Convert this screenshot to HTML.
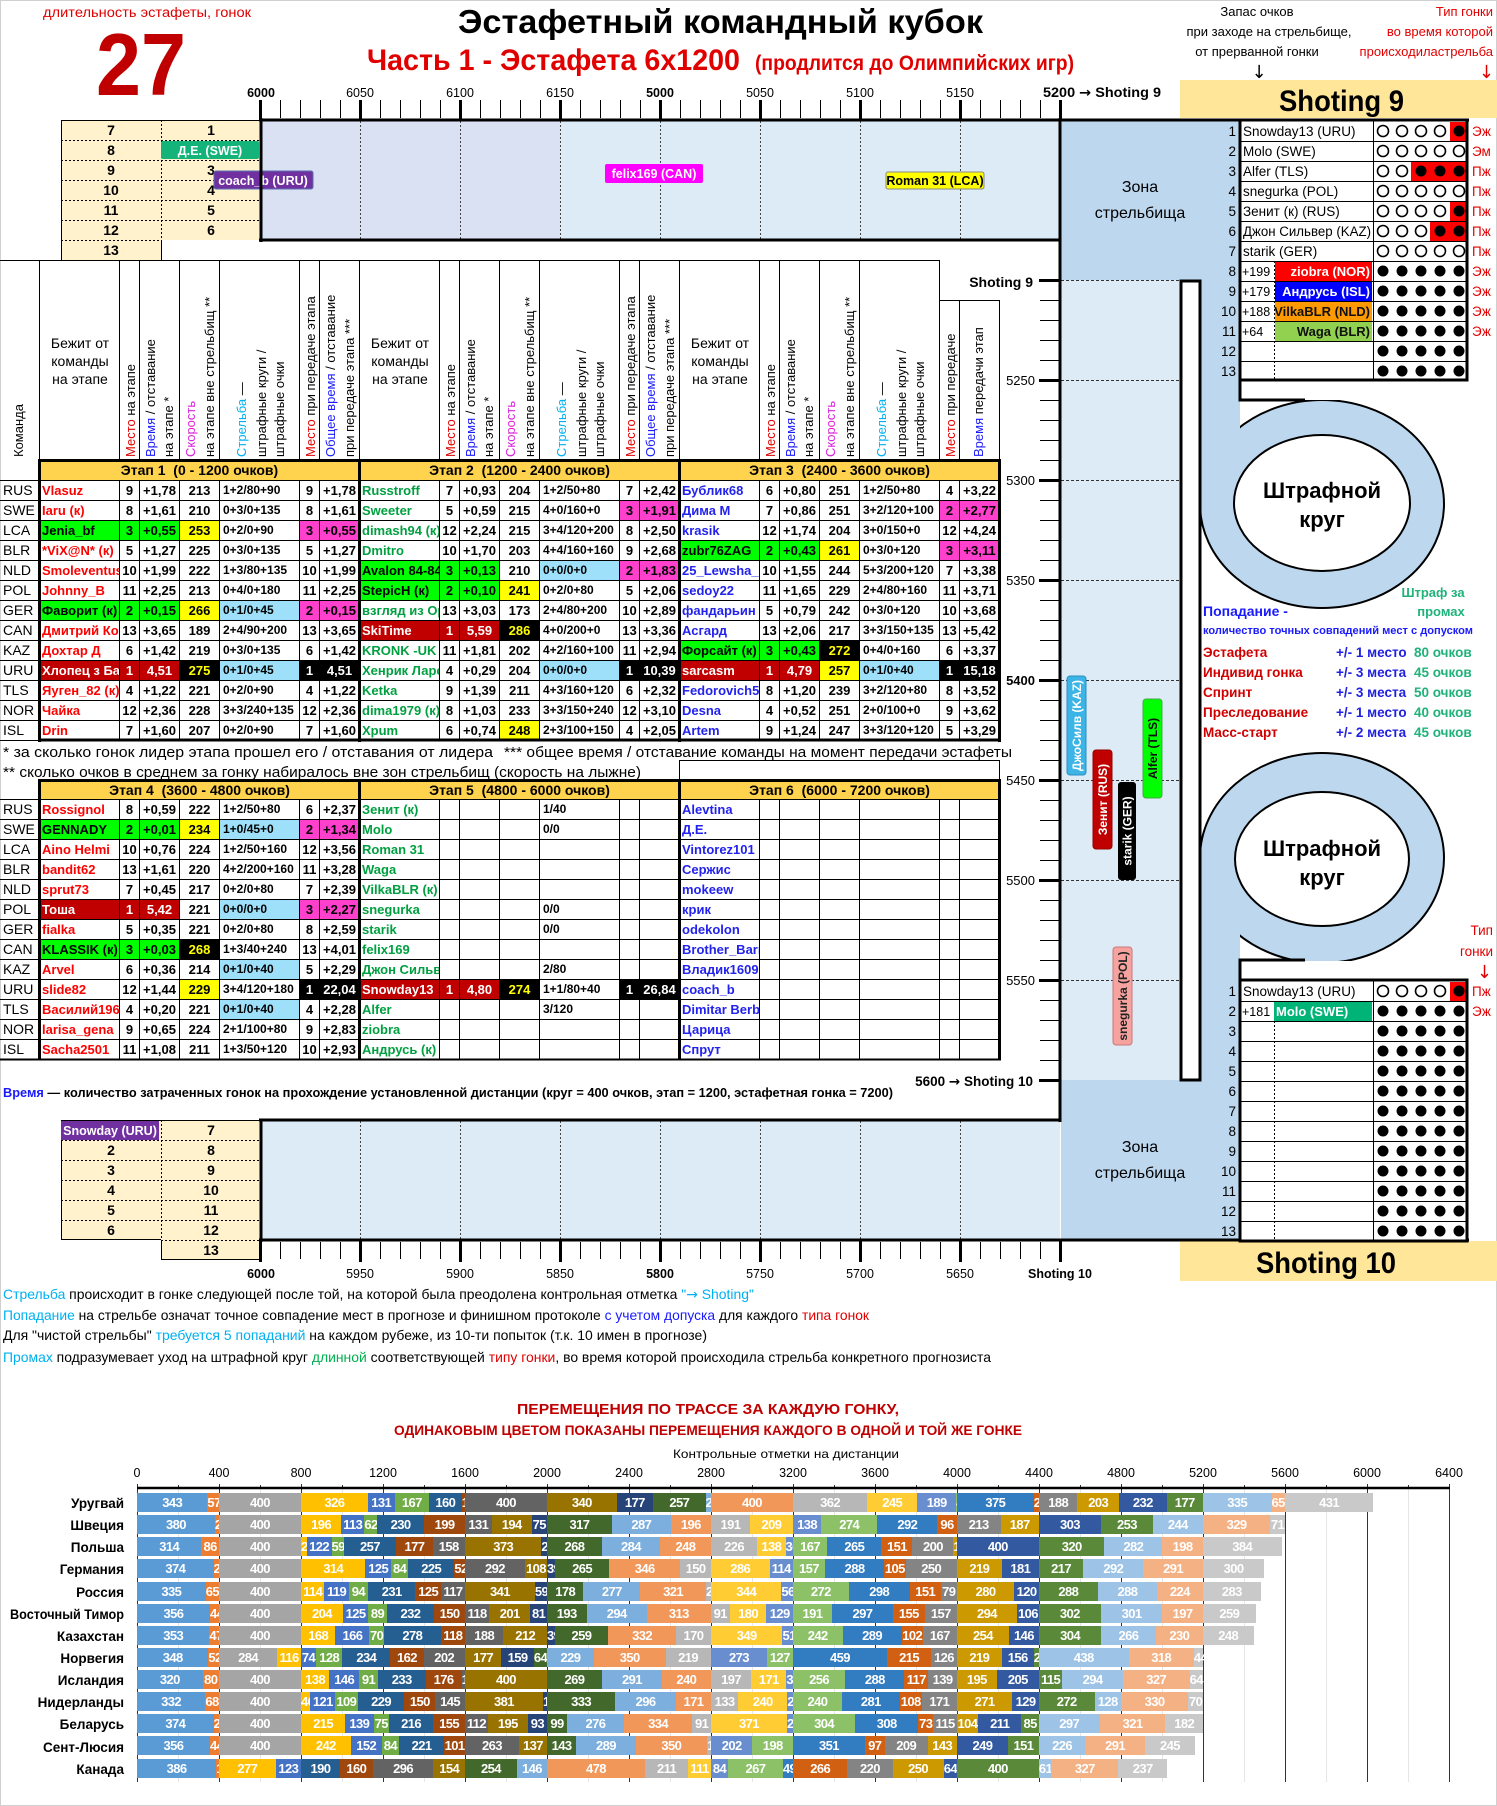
<!DOCTYPE html>
<html><head><meta charset="utf-8">
<style>
body{margin:0;background:#fff}
#p{position:relative;width:1497px;height:1806px;overflow:hidden;font-family:"Liberation Sans",sans-serif;background:#fff}
svg{position:absolute;left:0;top:0}
svg text{font-family:"Liberation Sans",sans-serif}
.ar{font-family:"DejaVu Sans",sans-serif}
#fg{pointer-events:none}
.g{position:absolute;left:0;width:1000px;display:grid;grid-template-columns:40px repeat(3,80px 20px 40px 40px 80px 20px 40px)}
#t1{top:460px;grid-template-rows:21px repeat(13,20px)}
#t2{top:780px;grid-template-rows:repeat(14,20px)}
.g i{box-sizing:border-box;border-right:1px solid #000;border-bottom:1px solid #000;font:bold 13px/19px "Liberation Sans",sans-serif;text-align:center;white-space:nowrap;overflow:hidden;color:#000}
.g .h{grid-column:span 7;background:#ffd34d;font-size:14px;line-height:20px}
.g .c{text-align:left;font-weight:normal;padding-left:3px;font-size:14px}
.g .l{text-align:left;padding-left:2px}
.g .s{text-align:left;padding-left:3px;font-size:12px}
.g .r{color:#f00}.g .v{color:#00a040}.g .u{color:#2222ee}
.g .G{background:#00ff00;color:#000}.g .Y{background:#ffff00}.g .M{background:#ff40cc}.g .L{background:#9ee0fa}
.g .D{background:#c00000;color:#fff}.g .K{background:#000;color:#fff}.g .KY{background:#000;color:#ff0}
.bar{position:absolute;left:137px;height:19px;display:flex}
.bar b{flex:none;height:19px;width:calc(var(--v) * 0.205px);color:#fff;font:bold 13px/19px "Liberation Sans Narrow","Liberation Sans",sans-serif;letter-spacing:-0.6px;text-align:center;white-space:nowrap;overflow:visible}
.bar b:nth-child(1){background:#5b9bd5}.bar b:nth-child(2){background:#ed7d31}.bar b:nth-child(3){background:#a5a5a5}
.bar b:nth-child(4){background:#ffc000}.bar b:nth-child(5){background:#4472c4}.bar b:nth-child(6){background:#70ad47}
.bar b:nth-child(7){background:#255e91}.bar b:nth-child(8){background:#9e480e}.bar b:nth-child(9){background:#636363}
.bar b:nth-child(10){background:#997300}.bar b:nth-child(11){background:#264478}.bar b:nth-child(12){background:#43682b}
.bar b:nth-child(13){background:#7cafdd}.bar b:nth-child(14){background:#f1975a}.bar b:nth-child(15){background:#b7b7b7}
.bar b:nth-child(16){background:#ffcd33}.bar b:nth-child(17){background:#698ed0}.bar b:nth-child(18){background:#8cc168}
.bar b:nth-child(19){background:#327dc2}.bar b:nth-child(20){background:#d26012}.bar b:nth-child(21){background:#848484}
.bar b:nth-child(22){background:#cc9a00}.bar b:nth-child(23){background:#335aa1}.bar b:nth-child(24){background:#5a8a39}
.bar b:nth-child(25){background:#9dc3e6}.bar b:nth-child(26){background:#f4b183}.bar b:nth-child(27){background:#c9c9c9}
.ho{fill:#fff;stroke:#000;stroke-width:1.6}
</style></head><body><div id="p">

<svg id="bg" width="1497" height="1806" viewBox="0 0 1497 1806">
<defs>
<pattern id="tx" x="260" y="0" width="20" height="20" patternUnits="userSpaceOnUse"><rect width="1" height="20" fill="#000"/></pattern>
<pattern id="ty" x="0" y="280" width="20" height="20" patternUnits="userSpaceOnUse"><rect width="20" height="1" fill="#000"/></pattern>
<g id="H"><circle cx="1383" r="5.5"/><circle cx="1402" r="5.5"/><circle cx="1421" r="5.5"/><circle cx="1440" r="5.5"/><circle cx="1459" r="5.5"/></g>
</defs>
<rect x="0.5" y="0.5" width="1496" height="1805" fill="#fff" stroke="#d0d0d0"/>

<!-- title -->
<text x="43" y="17" font-size="13.5" fill="#e00000" textLength="208" lengthAdjust="spacingAndGlyphs">длительность эстафеты, гонок</text>
<text x="96" y="95" font-size="88" font-weight="bold" fill="#c00000" textLength="90" lengthAdjust="spacingAndGlyphs">27</text>
<text x="458" y="33" font-size="33" font-weight="bold" textLength="525" lengthAdjust="spacingAndGlyphs">Эстафетный командный кубок</text>
<text x="367" y="70" font-size="30" font-weight="bold" fill="#e00000" textLength="373" lengthAdjust="spacingAndGlyphs">Часть 1 - Эстафета 6х1200</text>
<text x="755" y="70" font-size="21" font-weight="bold" fill="#e00000" textLength="319" lengthAdjust="spacingAndGlyphs">(продлится до Олимпийских игр)</text>
<g font-size="13" text-anchor="middle">
<text x="1257" y="16">Запас очков</text>
<text x="1269" y="36">при заходе на стрельбище,</text>
<text x="1257" y="56">от прерванной гонки</text>
<text x="1259" y="78" font-size="18" class="ar">↓</text>
</g>
<g font-size="13" text-anchor="end" fill="#e00000">
<text x="1493" y="16">Тип гонки</text>
<text x="1493" y="36">во время которой</text>
<text x="1493" y="56">происходиластрельба</text>
<text x="1494" y="78" font-size="18" class="ar">↓</text>
</g>

<!-- yellow shoting boxes -->
<rect x="1180" y="80" width="317" height="38" fill="#ffe699"/>
<text x="1279" y="111" font-size="30" font-weight="bold" textLength="125" lengthAdjust="spacingAndGlyphs">Shoting 9</text>
<rect x="1180" y="1241" width="317" height="40" fill="#ffe699"/>
<text x="1256" y="1273" font-size="30" font-weight="bold" textLength="140" lengthAdjust="spacingAndGlyphs">Shoting 10</text>

<!-- top box -->
<rect x="261" y="121" width="299" height="119" fill="#dae1f2"/>
<rect x="560" y="121" width="500" height="119" fill="#ddebf7"/>
<path d="M360.5 121V240M460.5 121V240M560.5 121V240M660.5 121V240M760.5 121V240M860.5 121V240M960.5 121V240" stroke="#444" stroke-dasharray="2 2"/>
<!-- bottom box -->
<rect x="261" y="1121" width="799" height="119" fill="#ddebf7"/>
<path d="M360.5 1121V1240M460.5 1121V1240M560.5 1121V1240M660.5 1121V1240M760.5 1121V1240M860.5 1121V1240M960.5 1121V1240" stroke="#444" stroke-dasharray="2 2"/>

<!-- zone -->
<rect x="1061" y="121" width="179" height="159" fill="#bdd7ee"/>
<rect x="1061" y="280" width="119" height="800" fill="#ddebf7"/>
<rect x="1061" y="1080" width="179" height="160" fill="#bdd7ee"/>
<path d="M1061 280.5H1180M1061 380.5H1180M1061 480.5H1180M1061 580.5H1180M1061 680.5H1180M1061 780.5H1180M1061 880.5H1180M1061 980.5H1180" stroke="#333" stroke-dasharray="3 2"/>

<!-- ring 1 -->
<ellipse cx="1322" cy="504" rx="122" ry="104" fill="#bdd7ee" stroke="#000" stroke-width="2"/>
<rect x="1200" y="280" width="40" height="224" fill="#bdd7ee"/>
<ellipse cx="1322" cy="503" rx="88" ry="68" fill="#fff" stroke="#000" stroke-width="2"/>
<rect x="1241" y="381" width="229" height="19" fill="#fff"/>
<path d="M1240 380V400H1305" fill="none" stroke="#000" stroke-width="3"/>
<!-- ring 2 -->
<ellipse cx="1322" cy="858" rx="122" ry="105" fill="#bdd7ee" stroke="#000" stroke-width="2"/>
<rect x="1200" y="858" width="40" height="222" fill="#bdd7ee"/>
<ellipse cx="1322" cy="859" rx="87" ry="67" fill="#fff" stroke="#000" stroke-width="2"/>
<rect x="1241" y="961" width="229" height="20" fill="#fff"/>
<path d="M1240 981V960H1305" fill="none" stroke="#000" stroke-width="3"/>
<!-- white bar -->
<rect x="1181" y="281" width="19" height="799" fill="#fff" stroke="#000" stroke-width="3"/>

<g font-size="22" font-weight="bold" text-anchor="middle">
<text x="1322" y="498">Штрафной</text><text x="1322" y="527">круг</text>
<text x="1322" y="856">Штрафной</text><text x="1322" y="885">круг</text>
</g>
<g font-size="16" text-anchor="middle">
<text x="1140" y="192">Зона</text><text x="1140" y="218">стрельбища</text>
<text x="1140" y="1152">Зона</text><text x="1140" y="1178">стрельбища</text>
</g>

<!-- top mini table -->
<rect x="61" y="120" width="200" height="120" fill="#fff2cc"/><rect x="61" y="240" width="100" height="20" fill="#fff2cc"/>
<path d="M61 120.5H261M61.5 120V260M161.5 240V260" stroke="#000"/>
<path d="M61 140.5H261M61 160.5H261M61 180.5H261M61 200.5H261M61 220.5H261M61 240.5H161M161.5 120V240" stroke="#000" stroke-dasharray="2 2"/>
<g font-size="14" font-weight="bold" text-anchor="middle">
<text x="111" y="135">7</text><text x="111" y="155">8</text><text x="111" y="175">9</text><text x="111" y="195">10</text><text x="111" y="215">11</text><text x="111" y="235">12</text><text x="111" y="255">13</text>
<text x="211" y="135">1</text><text x="211" y="175">3</text><text x="211" y="195">4</text><text x="211" y="215">5</text><text x="211" y="235">6</text>
</g>
<!-- bottom mini table -->
<rect x="61" y="1120" width="200" height="120" fill="#fff2cc"/><rect x="161" y="1240" width="100" height="20" fill="#fff2cc"/>
<path d="M61 1120.5H261M61.5 1120V1240M61 1239.5H161M161.5 1240V1260M161 1259.5H261M260.5 1240V1260" stroke="#000"/>
<path d="M61 1140.5H261M61 1160.5H261M61 1180.5H261M61 1200.5H261M61 1220.5H261M161 1240.5H261M161.5 1120V1240" stroke="#000" stroke-dasharray="2 2"/>
<g font-size="14" font-weight="bold" text-anchor="middle">
<text x="111" y="1155">2</text><text x="111" y="1175">3</text><text x="111" y="1195">4</text><text x="111" y="1215">5</text><text x="111" y="1235">6</text>
<text x="211" y="1135">7</text><text x="211" y="1155">8</text><text x="211" y="1175">9</text><text x="211" y="1195">10</text><text x="211" y="1215">11</text><text x="211" y="1235">12</text><text x="211" y="1255">13</text>
</g>

<!-- tags in boxes -->
<g font-size="12.5" font-weight="bold" text-anchor="middle">
<rect x="161" y="141" width="98" height="18" rx="2" fill="#13b37a"/><text x="210" y="155" fill="#fff">Д.Е. (SWE)</text>
<rect x="214" y="171" width="99" height="18" rx="2" fill="#7030a0" stroke="#5a6fb0"/><text x="263" y="185" fill="#fff">coach_b (URU)</text>
<rect x="605" y="164" width="98" height="19" rx="2" fill="#ff00ff"/><text x="654" y="178" fill="#fff">felix169 (CAN)</text>
<rect x="886" y="172" width="98" height="17" rx="2" fill="#ffff00" stroke="#888"/><text x="935" y="185" fill="#000">Roman 31 (LCA)</text>
<rect x="61" y="1121" width="98" height="19" fill="#7030a0"/><text x="110" y="1135" fill="#fff">Snowday (URU)</text>
</g>

<!-- vertical tags -->
<g font-size="12" font-weight="bold" text-anchor="middle">
<rect x="1067" y="676" width="19" height="99" rx="3" fill="#3cb4e6" stroke="#2a8fc0"/>
<text transform="translate(1081 725.5) rotate(-90)" fill="#fff">ДжоСилв (KAZ)</text>
<rect x="1093" y="750" width="19" height="99" rx="3" fill="#c00000" stroke="#900"/>
<text transform="translate(1107 799.5) rotate(-90)" fill="#fff">Зенит (RUS)</text>
<rect x="1118" y="782" width="18" height="98" rx="3" fill="#000"/>
<text transform="translate(1131.5 831) rotate(-90)" fill="#fff">starik (GER)</text>
<rect x="1143" y="699" width="19" height="99" rx="3" fill="#00ff00" stroke="#4a4"/>
<text transform="translate(1157 748.5) rotate(-90)" fill="#111">Alfer (TLS)</text>
<rect x="1113" y="947" width="19" height="98" rx="3" fill="#f6a3a0" stroke="#c77"/>
<text transform="translate(1127 996) rotate(-90)" fill="#222">snegurka (POL)</text>
</g>

<!-- top axis -->
<rect x="261" y="100" width="800" height="18" fill="url(#tx)"/>
<path d="M260.5 100V120M360.5 100V120M460.5 100V120M560.5 100V120M660.5 100V120M760.5 100V120M860.5 100V120M960.5 100V120M1060.5 100V120" stroke="#000" stroke-width="3"/>
<g font-size="12.5" text-anchor="middle">
<text x="261" y="97" font-weight="bold">6000</text><text x="360" y="97">6050</text><text x="460" y="97">6100</text><text x="560" y="97">6150</text>
<text x="660" y="97" font-weight="bold">5000</text><text x="760" y="97">5050</text><text x="860" y="97">5100</text><text x="960" y="97">5150</text>
</g>
<text x="1043" y="97" font-size="13.5" font-weight="bold" textLength="118" lengthAdjust="spacingAndGlyphs">5200 <tspan class="ar">→</tspan> Shoting 9</text>
<!-- bottom axis -->
<rect x="261" y="1242" width="800" height="17" fill="url(#tx)"/>
<path d="M260.5 1240V1262M360.5 1240V1262M460.5 1240V1262M560.5 1240V1262M660.5 1240V1262M760.5 1240V1262M860.5 1240V1262M960.5 1240V1262M1060.5 1240V1262" stroke="#000" stroke-width="3"/>
<g font-size="12.5" text-anchor="middle">
<text x="261" y="1278" font-weight="bold">6000</text><text x="360" y="1278">5950</text><text x="460" y="1278">5900</text><text x="560" y="1278">5850</text>
<text x="660" y="1278" font-weight="bold">5800</text><text x="760" y="1278">5750</text><text x="860" y="1278">5700</text><text x="960" y="1278">5650</text>
<text x="1060" y="1278" font-weight="bold">Shoting 10</text>
</g>
<!-- vertical axis -->
<rect x="1040" y="280" width="20" height="801" fill="url(#ty)"/>
<path d="M1039 280.5H1060M1039 380.5H1060M1039 480.5H1060M1039 580.5H1060M1039 680.5H1060M1039 780.5H1060M1039 880.5H1060M1039 980.5H1060M1039 1080.5H1060" stroke="#000" stroke-width="3"/>
<g font-size="13" text-anchor="end">
<text x="1033" y="287" font-weight="bold" font-size="14">Shoting 9</text>
<text x="1035" y="385">5250</text><text x="1035" y="485">5300</text><text x="1035" y="585">5350</text>
<text x="1035" y="685" font-weight="bold">5400</text><text x="1035" y="785">5450</text><text x="1035" y="885">5500</text><text x="1035" y="985">5550</text>
<text x="1033" y="1086" font-weight="bold" font-size="13.5">5600 <tspan class="ar">→</tspan> Shoting 10</text>
</g>

<!-- thick frame lines -->
<path d="M259 120H1469M261 118V242M259 240H1061M1060 118V1122M259 1120H1061M261 1119V1242M259 1240H1469" stroke="#000" stroke-width="3" fill="none"/>

<!-- main header -->
<path d="M0 260.5H939.5M939.5 300.5H1000M39.5 260V460M119.5 260V460M139.5 260V460M179.5 260V460M219.5 260V460M299.5 260V460M319.5 260V460M359.5 260V460M439.5 260V460M459.5 260V460M499.5 260V460M539.5 260V460M619.5 260V460M639.5 260V460M679.5 260V460M759.5 260V460M779.5 260V460M819.5 260V460M859.5 260V460M939.5 260V460M959.5 300V460M999.5 300V460" stroke="#000"/>
<g font-size="14" text-anchor="middle">
<text x="80" y="348">Бежит от</text><text x="80" y="366">команды</text><text x="80" y="384">на этапе</text>
<text x="400" y="348">Бежит от</text><text x="400" y="366">команды</text><text x="400" y="384">на этапе</text>
<text x="720" y="348">Бежит от</text><text x="720" y="366">команды</text><text x="720" y="384">на этапе</text>
</g>
<g font-size="13">
<text transform="translate(23 457) rotate(-90)">Команда</text>
<text transform="translate(135 457) rotate(-90)"><tspan fill="#e00000">Место</tspan> на этапе</text>
<text transform="translate(155 457) rotate(-90)"><tspan fill="#1a1aff">Время</tspan>  / отставание</text>
<text transform="translate(173 457) rotate(-90)">на этапе *</text>
<text transform="translate(195 457) rotate(-90)" fill="#e020e0">Скорость</text>
<text transform="translate(214 457) rotate(-90)">на этапе вне стрельбищ **</text>
<text transform="translate(246 457) rotate(-90)"><tspan fill="#00b0f0">Стрельба</tspan> —</text>
<text transform="translate(266 457) rotate(-90)">штрафные круги /</text>
<text transform="translate(284 457) rotate(-90)">штрафные очки</text>
<text transform="translate(315 457) rotate(-90)"><tspan fill="#e00000">Место</tspan> при передаче этапа</text>
<text transform="translate(335 457) rotate(-90)"><tspan fill="#1a1aff">Общее время</tspan>  / отставание</text>
<text transform="translate(354 457) rotate(-90)">при передаче этапа ***</text>

<text transform="translate(455 457) rotate(-90)"><tspan fill="#e00000">Место</tspan> на этапе</text>
<text transform="translate(475 457) rotate(-90)"><tspan fill="#1a1aff">Время</tspan>  / отставание</text>
<text transform="translate(493 457) rotate(-90)">на этапе *</text>
<text transform="translate(515 457) rotate(-90)" fill="#e020e0">Скорость</text>
<text transform="translate(534 457) rotate(-90)">на этапе вне стрельбищ **</text>
<text transform="translate(566 457) rotate(-90)"><tspan fill="#00b0f0">Стрельба</tspan> —</text>
<text transform="translate(586 457) rotate(-90)">штрафные круги /</text>
<text transform="translate(604 457) rotate(-90)">штрафные очки</text>
<text transform="translate(635 457) rotate(-90)"><tspan fill="#e00000">Место</tspan> при передаче этапа</text>
<text transform="translate(655 457) rotate(-90)"><tspan fill="#1a1aff">Общее время</tspan>  / отставание</text>
<text transform="translate(674 457) rotate(-90)">при передаче этапа ***</text>

<text transform="translate(775 457) rotate(-90)"><tspan fill="#e00000">Место</tspan> на этапе</text>
<text transform="translate(795 457) rotate(-90)"><tspan fill="#1a1aff">Время</tspan>  / отставание</text>
<text transform="translate(813 457) rotate(-90)">на этапе *</text>
<text transform="translate(835 457) rotate(-90)" fill="#e020e0">Скорость</text>
<text transform="translate(854 457) rotate(-90)">на этапе вне стрельбищ **</text>
<text transform="translate(886 457) rotate(-90)"><tspan fill="#00b0f0">Стрельба</tspan> —</text>
<text transform="translate(906 457) rotate(-90)">штрафные круги /</text>
<text transform="translate(924 457) rotate(-90)">штрафные очки</text>
<text transform="translate(955 457) rotate(-90)"><tspan fill="#e00000">Место</tspan> при передаче</text>
<text transform="translate(983 457) rotate(-90)"><tspan fill="#1a1aff">Время</tspan>  передачи этап</text>
</g>

<!-- footnotes -->
<text x="3" y="757" font-size="15" textLength="490" lengthAdjust="spacingAndGlyphs">* за сколько гонок лидер этапа прошел его / отставания от лидера</text>
<text x="504" y="757" font-size="15" textLength="508" lengthAdjust="spacingAndGlyphs">*** общее время / отставание команды на момент передачи эстафеты</text>
<text x="3" y="777" font-size="15" textLength="638" lengthAdjust="spacingAndGlyphs">** сколько очков в среднем за гонку набиралось вне зон стрельбищ (скорость на лыжне)</text>
<rect x="679.5" y="760.5" width="320" height="20" fill="none" stroke="#000"/>
<text x="3" y="1097" font-size="12.5" font-weight="bold" textLength="890" lengthAdjust="spacingAndGlyphs"><tspan fill="#1a1aff">Время</tspan> — количество затраченных гонок на прохождение установленной дистанции (круг = 400 очков, этап = 1200, эстафетная гонка = 7200)</text>

<!-- shoting 9 table -->
<rect x="1240" y="121" width="227" height="259" fill="#fff"/>
<rect x="1450" y="122" width="17" height="19" fill="#f00"/>
<rect x="1411" y="162" width="56" height="19" fill="#f00"/>
<rect x="1450" y="202" width="17" height="19" fill="#f00"/>
<rect x="1430" y="222" width="37" height="19" fill="#f00"/>
<path d="M1240 141.5H1467M1240 161.5H1467M1240 181.5H1467M1240 201.5H1467M1240 221.5H1467M1240 241.5H1467M1240 261.5H1467M1240 281.5H1467M1240 301.5H1467M1240 321.5H1467M1240 341.5H1467M1240 361.5H1467M1373.5 121V380" stroke="#000"/>
<path d="M1274.5 261V380" stroke="#000" stroke-dasharray="2 2"/>
<rect x="1275" y="262" width="97" height="19" fill="#ff0000"/>
<rect x="1275" y="282" width="97" height="19" fill="#0000ff"/>
<rect x="1275" y="302" width="97" height="19" fill="#ff9900"/>
<rect x="1275" y="322" width="97" height="19" fill="#92d050"/>
<rect x="1240" y="120" width="227" height="260" fill="none" stroke="#000" stroke-width="3"/>
<g font-size="13.5">
<g text-anchor="end"><text x="1236" y="136">1</text><text x="1236" y="156">2</text><text x="1236" y="176">3</text><text x="1236" y="196">4</text><text x="1236" y="216">5</text><text x="1236" y="236">6</text><text x="1236" y="256">7</text><text x="1236" y="276">8</text><text x="1236" y="296">9</text><text x="1236" y="316">10</text><text x="1236" y="336">11</text><text x="1236" y="356">12</text><text x="1236" y="376">13</text></g>
<text x="1243" y="136">Snowday13 (URU)</text>
<text x="1243" y="156">Molo (SWE)</text>
<text x="1243" y="176">Alfer (TLS)</text>
<text x="1243" y="196">snegurka (POL)</text>
<text x="1243" y="216">Зенит (к) (RUS)</text>
<text x="1243" y="236" textLength="128" lengthAdjust="spacingAndGlyphs">Джон Сильвер (KAZ)</text>
<text x="1243" y="256">starik (GER)</text>
<g font-size="12.5"><text x="1242" y="276">+199</text><text x="1242" y="296">+179</text><text x="1242" y="316">+188</text><text x="1242" y="336">+64</text></g>
<g fill="#e00000"><text x="1472" y="136">Эж</text><text x="1472" y="156">Эм</text><text x="1472" y="176">Пж</text><text x="1472" y="196">Пж</text><text x="1472" y="216">Пж</text><text x="1472" y="236">Пж</text><text x="1472" y="256">Пж</text><text x="1472" y="276">Эж</text><text x="1472" y="296">Эж</text><text x="1472" y="316">Эж</text><text x="1472" y="336">Эж</text></g>
</g>
<g font-size="13" font-weight="bold" text-anchor="end">
<text x="1370" y="276" fill="#fff">ziobra (NOR)</text>
<text x="1370" y="296" fill="#fff">Андрусь (ISL)</text>
<text x="1370" y="316" fill="#111">VilkaBLR (NLD)</text>
<text x="1370" y="336" fill="#111">Waga (BLR)</text>
</g>
<g class="ho">
<circle cx="1383" cy="131" r="5.5"/><circle cx="1402" cy="131" r="5.5"/><circle cx="1421" cy="131" r="5.5"/><circle cx="1440" cy="131" r="5.5"/>
<use href="#H" y="151"/>
<circle cx="1383" cy="171" r="5.5"/><circle cx="1402" cy="171" r="5.5"/>
<use href="#H" y="191"/>
<circle cx="1383" cy="211" r="5.5"/><circle cx="1402" cy="211" r="5.5"/><circle cx="1421" cy="211" r="5.5"/><circle cx="1440" cy="211" r="5.5"/>
<circle cx="1383" cy="231" r="5.5"/><circle cx="1402" cy="231" r="5.5"/><circle cx="1421" cy="231" r="5.5"/>
<use href="#H" y="251"/>
</g>
<g fill="#000">
<circle cx="1459" cy="131" r="5.5"/>
<circle cx="1421" cy="171" r="5.5"/><circle cx="1440" cy="171" r="5.5"/><circle cx="1459" cy="171" r="5.5"/>
<circle cx="1459" cy="211" r="5.5"/>
<circle cx="1440" cy="231" r="5.5"/><circle cx="1459" cy="231" r="5.5"/>
<use href="#H" y="271"/><use href="#H" y="291"/><use href="#H" y="311"/><use href="#H" y="331"/><use href="#H" y="351"/><use href="#H" y="371"/>
</g>

<!-- shoting 10 table -->
<rect x="1240" y="981" width="227" height="260" fill="#fff"/>
<rect x="1450" y="982" width="17" height="19" fill="#f00"/>
<rect x="1274" y="1002" width="98" height="19" fill="#00b478"/>
<path d="M1240 1001.5H1467M1240 1021.5H1467M1240 1041.5H1467M1240 1061.5H1467M1240 1081.5H1467M1240 1101.5H1467M1240 1121.5H1467M1240 1141.5H1467M1240 1161.5H1467M1240 1181.5H1467M1240 1201.5H1467M1240 1221.5H1467M1373.5 981V1241" stroke="#000"/>
<path d="M1274.5 1021V1241" stroke="#000" stroke-dasharray="2 2"/>
<rect x="1240" y="980" width="227" height="261" fill="none" stroke="#000" stroke-width="3"/>
<g font-size="13.5">
<g text-anchor="end"><text x="1236" y="996">1</text><text x="1236" y="1016">2</text><text x="1236" y="1036">3</text><text x="1236" y="1056">4</text><text x="1236" y="1076">5</text><text x="1236" y="1096">6</text><text x="1236" y="1116">7</text><text x="1236" y="1136">8</text><text x="1236" y="1156">9</text><text x="1236" y="1176">10</text><text x="1236" y="1196">11</text><text x="1236" y="1216">12</text><text x="1236" y="1236">13</text></g>
<text x="1243" y="996">Snowday13 (URU)</text>
<text x="1242" y="1016" font-size="12.5">+181</text>
<text x="1472" y="996" fill="#e00000">Пж</text><text x="1472" y="1016" fill="#e00000">Эж</text>
</g>
<text x="1276" y="1016" font-size="13" font-weight="bold" fill="#fff">Molo (SWE)</text>
<g class="ho"><circle cx="1383" cy="991" r="5.5"/><circle cx="1402" cy="991" r="5.5"/><circle cx="1421" cy="991" r="5.5"/><circle cx="1440" cy="991" r="5.5"/></g>
<circle cx="1459" cy="991" r="5.5"/>
<g fill="#000"><use href="#H" y="1011"/><use href="#H" y="1031"/><use href="#H" y="1051"/><use href="#H" y="1071"/><use href="#H" y="1091"/><use href="#H" y="1111"/><use href="#H" y="1131"/><use href="#H" y="1151"/><use href="#H" y="1171"/><use href="#H" y="1191"/><use href="#H" y="1211"/><use href="#H" y="1231"/></g>
<g font-size="13.5" text-anchor="end" fill="#e00000"><text x="1493" y="935">Тип</text><text x="1493" y="956">гонки</text><text x="1492" y="978" font-size="18" class="ar">↓</text></g>

<!-- legend -->
<g font-weight="bold">
<text x="1433" y="597" font-size="13" fill="#1fb27a" text-anchor="middle">Штраф за</text>
<text x="1441" y="616" font-size="13" fill="#1fb27a" text-anchor="middle">промах</text>
<text x="1203" y="616" font-size="14" fill="#1a1aff">Попадание -</text>
<text x="1203" y="634" font-size="11" fill="#1a1aff" textLength="270" lengthAdjust="spacingAndGlyphs">количество точных совпадений мест с допуском</text>
<g font-size="13.5" fill="#d00000"><text x="1203" y="657">Эстафета</text><text x="1203" y="677">Индивид гонка</text><text x="1203" y="697">Спринт</text><text x="1203" y="717">Преследование</text><text x="1203" y="737">Масс-старт</text></g>
<g font-size="13.5" fill="#2020e0"><text x="1336" y="657">+/- 1 место</text><text x="1336" y="677">+/- 3 места</text><text x="1336" y="697">+/- 3 места</text><text x="1336" y="717">+/- 1 место</text><text x="1336" y="737">+/- 2 места</text></g>
<g font-size="13.5" fill="#1fb27a"><text x="1414" y="657">80 очков</text><text x="1414" y="677">45 очков</text><text x="1414" y="697">50 очков</text><text x="1414" y="717">40 очков</text><text x="1414" y="737">45 очков</text></g>
</g>

<!-- notes -->
<text x="3" y="1299" font-size="14" textLength="751" lengthAdjust="spacingAndGlyphs"><tspan fill="#00b0f0">Стрельба</tspan> происходит в гонке следующей после той, на которой была преодолена контрольная отметка <tspan fill="#00b0f0">"<tspan class="ar">→</tspan> Shoting"</tspan></text>
<text x="3" y="1320" font-size="14" textLength="866" lengthAdjust="spacingAndGlyphs"><tspan fill="#00b0f0">Попадание</tspan> на стрельбе означат точное совпадение мест в прогнозе и финишном протоколе <tspan fill="#1a1aff">с учетом допуска</tspan> для каждого <tspan fill="#e00000">типа гонок</tspan></text>
<text x="3" y="1340" font-size="14" textLength="704" lengthAdjust="spacingAndGlyphs">Для "чистой стрельбы" <tspan fill="#00b0f0">требуется 5 попаданий</tspan> на каждом рубеже, из 10-ти попыток (т.к. 10 имен в прогнозе)</text>
<text x="3" y="1362" font-size="14" textLength="988" lengthAdjust="spacingAndGlyphs"><tspan fill="#00b0f0">Промах</tspan> подразумевает уход на штрафной круг <tspan fill="#00b050">длинной</tspan> соответствующей <tspan fill="#e00000">типу гонки</tspan>, во время которой происходила стрельба конкретного прогнозиста</text>

<!-- chart titles -->
<text x="517" y="1414" font-size="15" font-weight="bold" fill="#c00000" textLength="382" lengthAdjust="spacingAndGlyphs">ПЕРЕМЕЩЕНИЯ ПО ТРАССЕ ЗА КАЖДУЮ ГОНКУ,</text>
<text x="394" y="1435" font-size="14" font-weight="bold" fill="#c00000" textLength="628" lengthAdjust="spacingAndGlyphs">ОДИНАКОВЫМ ЦВЕТОМ ПОКАЗАНЫ ПЕРЕМЕЩЕНИЯ КАЖДОГО В ОДНОЙ И ТОЙ ЖЕ ГОНКЕ</text>
<text x="673" y="1458" font-size="12" textLength="226" lengthAdjust="spacingAndGlyphs">Контрольные отметки на дистанции</text>

<!-- chart axis -->
<path d="M178.5 1488V1782M260.5 1488V1782M342.5 1488V1782M424.5 1488V1782M506.5 1488V1782M588.5 1488V1782M670.5 1488V1782M752.5 1488V1782M834.5 1488V1782M916.5 1488V1782M998.5 1488V1782M1080.5 1488V1782M1162.5 1488V1782M1244.5 1488V1782M1326.5 1488V1782M1408.5 1488V1782" stroke="#e6e6e6"/>
<path d="M137.5 1484V1782M219.5 1484V1782M301.5 1484V1782M383.5 1484V1782M465.5 1484V1782M547.5 1484V1782M629.5 1484V1782M711.5 1484V1782M793.5 1484V1782M875.5 1484V1782M957.5 1484V1782M1039.5 1484V1782M1121.5 1484V1782M1203.5 1484V1782M1285.5 1484V1782M1367.5 1484V1782M1449.5 1484V1782M178.5 1485V1488M260.5 1485V1488M342.5 1485V1488M424.5 1485V1488M506.5 1485V1488M588.5 1485V1488M670.5 1485V1488M752.5 1485V1488M834.5 1485V1488M916.5 1485V1488M998.5 1485V1488M1080.5 1485V1488M1162.5 1485V1488M1244.5 1485V1488M1326.5 1485V1488M1408.5 1485V1488" stroke="#333"/>
<path d="M137 1488H1450" stroke="#000" stroke-width="2.5"/>
<g font-size="12.5" text-anchor="middle">
<text x="137" y="1477">0</text><text x="219" y="1477">400</text><text x="301" y="1477">800</text><text x="383" y="1477">1200</text><text x="465" y="1477">1600</text><text x="547" y="1477">2000</text><text x="629" y="1477">2400</text><text x="711" y="1477">2800</text><text x="793" y="1477">3200</text><text x="875" y="1477">3600</text><text x="957" y="1477">4000</text><text x="1039" y="1477">4400</text><text x="1121" y="1477">4800</text><text x="1203" y="1477">5200</text><text x="1285" y="1477">5600</text><text x="1367" y="1477">6000</text><text x="1449" y="1477">6400</text>
</g>
<g font-size="13.5" font-weight="bold" text-anchor="end">
<text x="124" y="1508">Уругвай</text><text x="124" y="1530">Швеция</text><text x="124" y="1552">Польша</text><text x="124" y="1574">Германия</text><text x="124" y="1597">Россия</text><text x="124" y="1619" textLength="114" lengthAdjust="spacingAndGlyphs">Восточный Тимор</text><text x="124" y="1641">Казахстан</text><text x="124" y="1663">Норвегия</text><text x="124" y="1685">Исландия</text><text x="124" y="1707">Нидерланды</text><text x="124" y="1729">Беларусь</text><text x="124" y="1752">Сент-Люсия</text><text x="124" y="1774">Канада</text>
</g>
</svg>

<!-- TABLE 1 -->
<div class="g" id="t1">
<i></i><i class="h">Этап 1&nbsp; (0 - 1200 очков)</i><i class="h">Этап 2&nbsp; (1200 - 2400 очков)</i><i class="h">Этап 3&nbsp; (2400 - 3600 очков)</i>
<i class="c">RUS</i><i class="l r">Vlasuz</i><i>9</i><i>+1,78</i><i>213</i><i class="s">1+2/80+90</i><i>9</i><i>+1,78</i><i class="l v">Russtroff</i><i>7</i><i>+0,93</i><i>204</i><i class="s">1+2/50+80</i><i>7</i><i>+2,42</i><i class="l u">Бублик68</i><i>6</i><i>+0,80</i><i>251</i><i class="s">1+2/50+80</i><i>4</i><i>+3,22</i>
<i class="c">SWE</i><i class="l r">Iaru (к)</i><i>8</i><i>+1,61</i><i>210</i><i class="s">0+3/0+135</i><i>8</i><i>+1,61</i><i class="l v">Sweeter</i><i>5</i><i>+0,59</i><i>215</i><i class="s">4+0/160+0</i><i class="M">3</i><i class="M">+1,91</i><i class="l u">Дима М</i><i>7</i><i>+0,86</i><i>251</i><i class="s">3+2/120+100</i><i class="M">2</i><i class="M">+2,77</i>
<i class="c">LCA</i><i class="l r G">Jenia_bf</i><i class="G">3</i><i class="G">+0,55</i><i class="Y">253</i><i class="s">0+2/0+90</i><i class="M">3</i><i class="M">+0,55</i><i class="l v">dimash94 (к)</i><i>12</i><i>+2,24</i><i>215</i><i class="s">3+4/120+200</i><i>8</i><i>+2,50</i><i class="l u">krasik</i><i>12</i><i>+1,74</i><i>204</i><i class="s">3+0/150+0</i><i>12</i><i>+4,24</i>
<i class="c">BLR</i><i class="l r">*ViX@N* (к)</i><i>5</i><i>+1,27</i><i>225</i><i class="s">0+3/0+135</i><i>5</i><i>+1,27</i><i class="l v">Dmitro</i><i>10</i><i>+1,70</i><i>203</i><i class="s">4+4/160+160</i><i>9</i><i>+2,68</i><i class="l u G">zubr76ZAG</i><i class="G">2</i><i class="G">+0,43</i><i class="Y">261</i><i class="s">0+3/0+120</i><i class="M">3</i><i class="M">+3,11</i>
<i class="c">NLD</i><i class="l r">Smoleventus</i><i>10</i><i>+1,99</i><i>222</i><i class="s">1+3/80+135</i><i>10</i><i>+1,99</i><i class="l v G">Avalon 84-84</i><i class="G">3</i><i class="G">+0,13</i><i>210</i><i class="s L">0+0/0+0</i><i class="M">2</i><i class="M">+1,83</i><i class="l u">25_Lewsha_1</i><i>10</i><i>+1,55</i><i>244</i><i class="s">5+3/200+120</i><i>7</i><i>+3,38</i>
<i class="c">POL</i><i class="l r">Johnny_B</i><i>11</i><i>+2,25</i><i>213</i><i class="s">0+4/0+180</i><i>11</i><i>+2,25</i><i class="l v G">StepicH (к)</i><i class="G">2</i><i class="G">+0,10</i><i class="Y">241</i><i class="s">0+2/0+80</i><i>5</i><i>+2,06</i><i class="l u">sedoy22</i><i>11</i><i>+1,65</i><i>229</i><i class="s">2+4/80+160</i><i>11</i><i>+3,71</i>
<i class="c">GER</i><i class="l r G">Фаворит (к)</i><i class="G">2</i><i class="G">+0,15</i><i class="Y">266</i><i class="s L">0+1/0+45</i><i class="M">2</i><i class="M">+0,15</i><i class="l v">взгляд из Ор</i><i>13</i><i>+3,03</i><i>173</i><i class="s">2+4/80+200</i><i>10</i><i>+2,89</i><i class="l u">фандарьин</i><i>5</i><i>+0,79</i><i>242</i><i class="s">0+3/0+120</i><i>10</i><i>+3,68</i>
<i class="c">CAN</i><i class="l r">Дмитрий Ко</i><i>13</i><i>+3,65</i><i>189</i><i class="s">2+4/90+200</i><i>13</i><i>+3,65</i><i class="l v D">SkiTime</i><i class="D">1</i><i class="D">5,59</i><i class="KY">286</i><i class="s">4+0/200+0</i><i>13</i><i>+3,36</i><i class="l u">Асгард</i><i>13</i><i>+2,06</i><i>217</i><i class="s">3+3/150+135</i><i>13</i><i>+5,42</i>
<i class="c">KAZ</i><i class="l r">Дохтар Д</i><i>6</i><i>+1,42</i><i>219</i><i class="s">0+3/0+135</i><i>6</i><i>+1,42</i><i class="l v">KRONK -UK</i><i>11</i><i>+1,81</i><i>202</i><i class="s">4+2/160+100</i><i>11</i><i>+2,94</i><i class="l u G">Форсайт (к)</i><i class="G">3</i><i class="G">+0,43</i><i class="KY">272</i><i class="s">0+4/0+160</i><i>6</i><i>+3,37</i>
<i class="c">URU</i><i class="l r D">Хлопец з Бар</i><i class="D">1</i><i class="D">4,51</i><i class="KY">275</i><i class="s L">0+1/0+45</i><i class="K">1</i><i class="K">4,51</i><i class="l v">Хенрик Ларс</i><i>4</i><i>+0,29</i><i>204</i><i class="s L">0+0/0+0</i><i class="K">1</i><i class="K">10,39</i><i class="l u D">sarcasm</i><i class="D">1</i><i class="D">4,79</i><i class="Y">257</i><i class="s L">0+1/0+40</i><i class="K">1</i><i class="K">15,18</i>
<i class="c">TLS</i><i class="l r">Яуген_82 (к)</i><i>4</i><i>+1,22</i><i>221</i><i class="s">0+2/0+90</i><i>4</i><i>+1,22</i><i class="l v">Ketka</i><i>9</i><i>+1,39</i><i>211</i><i class="s">4+3/160+120</i><i>6</i><i>+2,32</i><i class="l u">Fedorovich5</i><i>8</i><i>+1,20</i><i>239</i><i class="s">3+2/120+80</i><i>8</i><i>+3,52</i>
<i class="c">NOR</i><i class="l r">Чайка</i><i>12</i><i>+2,36</i><i>228</i><i class="s">3+3/240+135</i><i>12</i><i>+2,36</i><i class="l v">dima1979 (к)</i><i>8</i><i>+1,03</i><i>233</i><i class="s">3+3/150+240</i><i>12</i><i>+3,10</i><i class="l u">Desna</i><i>4</i><i>+0,52</i><i>251</i><i class="s">2+0/100+0</i><i>9</i><i>+3,62</i>
<i class="c">ISL</i><i class="l r">Drin</i><i>7</i><i>+1,60</i><i>207</i><i class="s">0+2/0+90</i><i>7</i><i>+1,60</i><i class="l v">Xpum</i><i>6</i><i>+0,74</i><i class="Y">248</i><i class="s">2+3/100+150</i><i>4</i><i>+2,05</i><i class="l u">Artem</i><i>9</i><i>+1,24</i><i>247</i><i class="s">3+3/120+120</i><i>5</i><i>+3,29</i>
</div>

<!-- TABLE 2 -->
<div class="g" id="t2">
<i></i><i class="h">Этап 4&nbsp; (3600 - 4800 очков)</i><i class="h">Этап 5&nbsp; (4800 - 6000 очков)</i><i class="h">Этап 6&nbsp; (6000 - 7200 очков)</i>
<i class="c">RUS</i><i class="l r">Rossignol</i><i>8</i><i>+0,59</i><i>222</i><i class="s">1+2/50+80</i><i>6</i><i>+2,37</i><i class="l v">Зенит (к)</i><i></i><i></i><i></i><i class="s">1/40</i><i></i><i></i><i class="l u">Alevtina</i><i></i><i></i><i></i><i></i><i></i><i></i>
<i class="c">SWE</i><i class="l r G">GENNADY</i><i class="G">2</i><i class="G">+0,01</i><i class="Y">234</i><i class="s L">1+0/45+0</i><i class="M">2</i><i class="M">+1,34</i><i class="l v">Molo</i><i></i><i></i><i></i><i class="s">0/0</i><i></i><i></i><i class="l u">Д.Е.</i><i></i><i></i><i></i><i></i><i></i><i></i>
<i class="c">LCA</i><i class="l r">Aino Helmi</i><i>10</i><i>+0,76</i><i>224</i><i class="s">1+2/50+160</i><i>12</i><i>+3,56</i><i class="l v">Roman 31</i><i></i><i></i><i></i><i></i><i></i><i></i><i class="l u">Vintorez101</i><i></i><i></i><i></i><i></i><i></i><i></i>
<i class="c">BLR</i><i class="l r">bandit62</i><i>13</i><i>+1,61</i><i>220</i><i class="s">4+2/200+160</i><i>11</i><i>+3,28</i><i class="l v">Waga</i><i></i><i></i><i></i><i></i><i></i><i></i><i class="l u">Сержис</i><i></i><i></i><i></i><i></i><i></i><i></i>
<i class="c">NLD</i><i class="l r">sprut73</i><i>7</i><i>+0,45</i><i>217</i><i class="s">0+2/0+80</i><i>7</i><i>+2,39</i><i class="l v">VilkaBLR (к)</i><i></i><i></i><i></i><i></i><i></i><i></i><i class="l u">mokeew</i><i></i><i></i><i></i><i></i><i></i><i></i>
<i class="c">POL</i><i class="l r D">Тоша</i><i class="D">1</i><i class="D">5,42</i><i>221</i><i class="s L">0+0/0+0</i><i class="M">3</i><i class="M">+2,27</i><i class="l v">snegurka</i><i></i><i></i><i></i><i class="s">0/0</i><i></i><i></i><i class="l u">крик</i><i></i><i></i><i></i><i></i><i></i><i></i>
<i class="c">GER</i><i class="l r">fialka</i><i>5</i><i>+0,35</i><i>221</i><i class="s">0+2/0+80</i><i>8</i><i>+2,59</i><i class="l v">starik</i><i></i><i></i><i></i><i class="s">0/0</i><i></i><i></i><i class="l u">odekolon</i><i></i><i></i><i></i><i></i><i></i><i></i>
<i class="c">CAN</i><i class="l r G">KLASSIK (к)</i><i class="G">3</i><i class="G">+0,03</i><i class="KY">268</i><i class="s">1+3/40+240</i><i>13</i><i>+4,01</i><i class="l v">felix169</i><i></i><i></i><i></i><i></i><i></i><i></i><i class="l u">Brother_Barr</i><i></i><i></i><i></i><i></i><i></i><i></i>
<i class="c">KAZ</i><i class="l r">Arvel</i><i>6</i><i>+0,36</i><i>214</i><i class="s L">0+1/0+40</i><i>5</i><i>+2,29</i><i class="l v">Джон Сильвер</i><i></i><i></i><i></i><i class="s">2/80</i><i></i><i></i><i class="l u">Владик1609</i><i></i><i></i><i></i><i></i><i></i><i></i>
<i class="c">URU</i><i class="l r">slide82</i><i>12</i><i>+1,44</i><i class="Y">229</i><i class="s">3+4/120+180</i><i class="K">1</i><i class="K">22,04</i><i class="l v D">Snowday13</i><i class="D">1</i><i class="D">4,80</i><i class="KY">274</i><i class="s">1+1/80+40</i><i class="K">1</i><i class="K">26,84</i><i class="l u">coach_b</i><i></i><i></i><i></i><i></i><i></i><i></i>
<i class="c">TLS</i><i class="l r">Василий196</i><i>4</i><i>+0,20</i><i>221</i><i class="s L">0+1/0+40</i><i>4</i><i>+2,28</i><i class="l v">Alfer</i><i></i><i></i><i></i><i class="s">3/120</i><i></i><i></i><i class="l u">Dimitar Berb</i><i></i><i></i><i></i><i></i><i></i><i></i>
<i class="c">NOR</i><i class="l r">larisa_gena</i><i>9</i><i>+0,65</i><i>224</i><i class="s">2+1/100+80</i><i>9</i><i>+2,83</i><i class="l v">ziobra</i><i></i><i></i><i></i><i></i><i></i><i></i><i class="l u">Царица</i><i></i><i></i><i></i><i></i><i></i><i></i>
<i class="c">ISL</i><i class="l r">Sacha2501</i><i>11</i><i>+1,08</i><i>211</i><i class="s">1+3/50+120</i><i>10</i><i>+2,93</i><i class="l v">Андрусь (к)</i><i></i><i></i><i></i><i></i><i></i><i></i><i class="l u">Спрут</i><i></i><i></i><i></i><i></i><i></i><i></i>
</div>

<!-- BAR CHART -->
<div class="bar" style="top:1493px"><b style=--v:343>343</b><b style=--v:57>57</b><b style=--v:400>400</b><b style=--v:326>326</b><b style=--v:131>131</b><b style=--v:167>167</b><b style=--v:160>160</b><b style=--v:16>16</b><b style=--v:400>400</b><b style=--v:340>340</b><b style=--v:177>177</b><b style=--v:257>257</b><b style=--v:26>26</b><b style=--v:400>400</b><b style=--v:362>362</b><b style=--v:245>245</b><b style=--v:189>189</b><b style=--v:4>4</b><b style=--v:375>375</b><b style=--v:25>25</b><b style=--v:188>188</b><b style=--v:203>203</b><b style=--v:232>232</b><b style=--v:177>177</b><b style=--v:335>335</b><b style=--v:65>65</b><b style=--v:431>431</b></div>
<div class="bar" style="top:1515px"><b style=--v:380>380</b><b style=--v:20>20</b><b style=--v:400>400</b><b style=--v:196>196</b><b style=--v:113>113</b><b style=--v:62>62</b><b style=--v:230>230</b><b style=--v:199>199</b><b style=--v:131>131</b><b style=--v:194>194</b><b style=--v:75>75</b><b style=--v:317>317</b><b style=--v:287>287</b><b style=--v:196>196</b><b style=--v:191>191</b><b style=--v:209>209</b><b style=--v:138>138</b><b style=--v:274>274</b><b style=--v:292>292</b><b style=--v:96>96</b><b style=--v:213>213</b><b style=--v:187>187</b><b style=--v:303>303</b><b style=--v:253>253</b><b style=--v:244>244</b><b style=--v:329>329</b><b style=--v:71>71</b></div>
<div class="bar" style="top:1537px"><b style=--v:314>314</b><b style=--v:86>86</b><b style=--v:400>400</b><b style=--v:27>27</b><b style=--v:122>122</b><b style=--v:59>59</b><b style=--v:257>257</b><b style=--v:177>177</b><b style=--v:158>158</b><b style=--v:373>373</b><b style=--v:27>27</b><b style=--v:268>268</b><b style=--v:284>284</b><b style=--v:248>248</b><b style=--v:226>226</b><b style=--v:138>138</b><b style=--v:36>36</b><b style=--v:167>167</b><b style=--v:265>265</b><b style=--v:151>151</b><b style=--v:200>200</b><b style=--v:17>17</b><b style=--v:400>400</b><b style=--v:320>320</b><b style=--v:282>282</b><b style=--v:198>198</b><b style=--v:384>384</b></div>
<div class="bar" style="top:1559.4px"><b style=--v:374>374</b><b style=--v:26>26</b><b style=--v:400>400</b><b style=--v:314>314</b><b style=--v:125>125</b><b style=--v:84>84</b><b style=--v:225>225</b><b style=--v:52>52</b><b style=--v:292>292</b><b style=--v:108>108</b><b style=--v:39>39</b><b style=--v:265>265</b><b style=--v:0></b><b style=--v:346>346</b><b style=--v:150>150</b><b style=--v:286>286</b><b style=--v:114>114</b><b style=--v:157>157</b><b style=--v:288>288</b><b style=--v:105>105</b><b style=--v:250>250</b><b style=--v:219>219</b><b style=--v:181>181</b><b style=--v:217>217</b><b style=--v:292>292</b><b style=--v:291>291</b><b style=--v:300>300</b></div>
<div class="bar" style="top:1581.5px"><b style=--v:335>335</b><b style=--v:65>65</b><b style=--v:400>400</b><b style=--v:114>114</b><b style=--v:119>119</b><b style=--v:94>94</b><b style=--v:231>231</b><b style=--v:125>125</b><b style=--v:117>117</b><b style=--v:341>341</b><b style=--v:59>59</b><b style=--v:178>178</b><b style=--v:277>277</b><b style=--v:321>321</b><b style=--v:24>24</b><b style=--v:344>344</b><b style=--v:56>56</b><b style=--v:272>272</b><b style=--v:298>298</b><b style=--v:151>151</b><b style=--v:79>79</b><b style=--v:280>280</b><b style=--v:120>120</b><b style=--v:288>288</b><b style=--v:288>288</b><b style=--v:224>224</b><b style=--v:283>283</b></div>
<div class="bar" style="top:1603.7px"><b style=--v:356>356</b><b style=--v:44>44</b><b style=--v:400>400</b><b style=--v:204>204</b><b style=--v:125>125</b><b style=--v:89>89</b><b style=--v:232>232</b><b style=--v:150>150</b><b style=--v:118>118</b><b style=--v:201>201</b><b style=--v:81>81</b><b style=--v:193>193</b><b style=--v:294>294</b><b style=--v:313>313</b><b style=--v:91>91</b><b style=--v:180>180</b><b style=--v:129>129</b><b style=--v:191>191</b><b style=--v:297>297</b><b style=--v:155>155</b><b style=--v:157>157</b><b style=--v:294>294</b><b style=--v:106>106</b><b style=--v:302>302</b><b style=--v:301>301</b><b style=--v:197>197</b><b style=--v:259>259</b></div>
<div class="bar" style="top:1625.8px"><b style=--v:353>353</b><b style=--v:47>47</b><b style=--v:400>400</b><b style=--v:168>168</b><b style=--v:166>166</b><b style=--v:70>70</b><b style=--v:278>278</b><b style=--v:118>118</b><b style=--v:188>188</b><b style=--v:212>212</b><b style=--v:39>39</b><b style=--v:259>259</b><b style=--v:0></b><b style=--v:332>332</b><b style=--v:170>170</b><b style=--v:349>349</b><b style=--v:51>51</b><b style=--v:242>242</b><b style=--v:289>289</b><b style=--v:102>102</b><b style=--v:167>167</b><b style=--v:254>254</b><b style=--v:146>146</b><b style=--v:304>304</b><b style=--v:266>266</b><b style=--v:230>230</b><b style=--v:248>248</b></div>
<div class="bar" style="top:1647.9px"><b style=--v:348>348</b><b style=--v:52>52</b><b style=--v:284>284</b><b style=--v:116>116</b><b style=--v:74>74</b><b style=--v:128>128</b><b style=--v:234>234</b><b style=--v:162>162</b><b style=--v:202>202</b><b style=--v:177>177</b><b style=--v:159>159</b><b style=--v:64>64</b><b style=--v:229>229</b><b style=--v:350>350</b><b style=--v:219>219</b><b style=--v:2>2</b><b style=--v:273>273</b><b style=--v:127>127</b><b style=--v:459>459</b><b style=--v:215>215</b><b style=--v:126>126</b><b style=--v:219>219</b><b style=--v:156>156</b><b style=--v:25>25</b><b style=--v:438>438</b><b style=--v:318>318</b><b style=--v:44>44</b></div>
<div class="bar" style="top:1670px"><b style=--v:320>320</b><b style=--v:80>80</b><b style=--v:400>400</b><b style=--v:138>138</b><b style=--v:146>146</b><b style=--v:91>91</b><b style=--v:233>233</b><b style=--v:176>176</b><b style=--v:16>16</b><b style=--v:400>400</b><b style=--v:0></b><b style=--v:269>269</b><b style=--v:291>291</b><b style=--v:240>240</b><b style=--v:197>197</b><b style=--v:171>171</b><b style=--v:32>32</b><b style=--v:256>256</b><b style=--v:288>288</b><b style=--v:117>117</b><b style=--v:139>139</b><b style=--v:195>195</b><b style=--v:205>205</b><b style=--v:115>115</b><b style=--v:294>294</b><b style=--v:327>327</b><b style=--v:64>64</b></div>
<div class="bar" style="top:1692.2px"><b style=--v:332>332</b><b style=--v:68>68</b><b style=--v:400>400</b><b style=--v:46>46</b><b style=--v:121>121</b><b style=--v:109>109</b><b style=--v:229>229</b><b style=--v:150>150</b><b style=--v:145>145</b><b style=--v:381>381</b><b style=--v:19>19</b><b style=--v:333>333</b><b style=--v:296>296</b><b style=--v:171>171</b><b style=--v:133>133</b><b style=--v:240>240</b><b style=--v:27>27</b><b style=--v:240>240</b><b style=--v:281>281</b><b style=--v:108>108</b><b style=--v:171>171</b><b style=--v:271>271</b><b style=--v:129>129</b><b style=--v:272>272</b><b style=--v:128>128</b><b style=--v:330>330</b><b style=--v:70>70</b></div>
<div class="bar" style="top:1714.3px"><b style=--v:374>374</b><b style=--v:26>26</b><b style=--v:400>400</b><b style=--v:215>215</b><b style=--v:139>139</b><b style=--v:75>75</b><b style=--v:216>216</b><b style=--v:155>155</b><b style=--v:112>112</b><b style=--v:195>195</b><b style=--v:93>93</b><b style=--v:99>99</b><b style=--v:276>276</b><b style=--v:334>334</b><b style=--v:91>91</b><b style=--v:371>371</b><b style=--v:29>29</b><b style=--v:304>304</b><b style=--v:308>308</b><b style=--v:73>73</b><b style=--v:115>115</b><b style=--v:104>104</b><b style=--v:211>211</b><b style=--v:85>85</b><b style=--v:297>297</b><b style=--v:321>321</b><b style=--v:182>182</b></div>
<div class="bar" style="top:1736.4px"><b style=--v:356>356</b><b style=--v:44>44</b><b style=--v:400>400</b><b style=--v:242>242</b><b style=--v:152>152</b><b style=--v:84>84</b><b style=--v:221>221</b><b style=--v:101>101</b><b style=--v:263>263</b><b style=--v:137>137</b><b style=--v:0></b><b style=--v:143>143</b><b style=--v:289>289</b><b style=--v:350>350</b><b style=--v:18>18</b><b style=--v:0></b><b style=--v:202>202</b><b style=--v:198>198</b><b style=--v:351>351</b><b style=--v:97>97</b><b style=--v:209>209</b><b style=--v:143>143</b><b style=--v:249>249</b><b style=--v:151>151</b><b style=--v:226>226</b><b style=--v:291>291</b><b style=--v:245>245</b></div>
<div class="bar" style="top:1758.6px"><b style=--v:386>386</b><b style=--v:14>14</b><b style=--v:0></b><b style=--v:277>277</b><b style=--v:123>123</b><b style=--v:0></b><b style=--v:190>190</b><b style=--v:160>160</b><b style=--v:296>296</b><b style=--v:154>154</b><b style=--v:0></b><b style=--v:254>254</b><b style=--v:146>146</b><b style=--v:478>478</b><b style=--v:211>211</b><b style=--v:111>111</b><b style=--v:84>84</b><b style=--v:267>267</b><b style=--v:49>49</b><b style=--v:266>266</b><b style=--v:220>220</b><b style=--v:250>250</b><b style=--v:64>64</b><b style=--v:400>400</b><b style=--v:61>61</b><b style=--v:327>327</b><b style=--v:237>237</b></div>

<svg id="fg" width="1497" height="1806" viewBox="0 0 1497 1806">
<path d="M38 460.5H1001M38 740H1001M39.5 459V742M359.5 459V742M679.5 459V742M999.5 459V742M38 780.5H1001M39.5 779V1060M359.5 779V1060M679.5 779V1060M999.5 779V1060" stroke="#000" stroke-width="3" fill="none"/>
<path d="M0 1059.5H1001" stroke="#000" stroke-width="2"/>
</svg>
</div></body></html>
